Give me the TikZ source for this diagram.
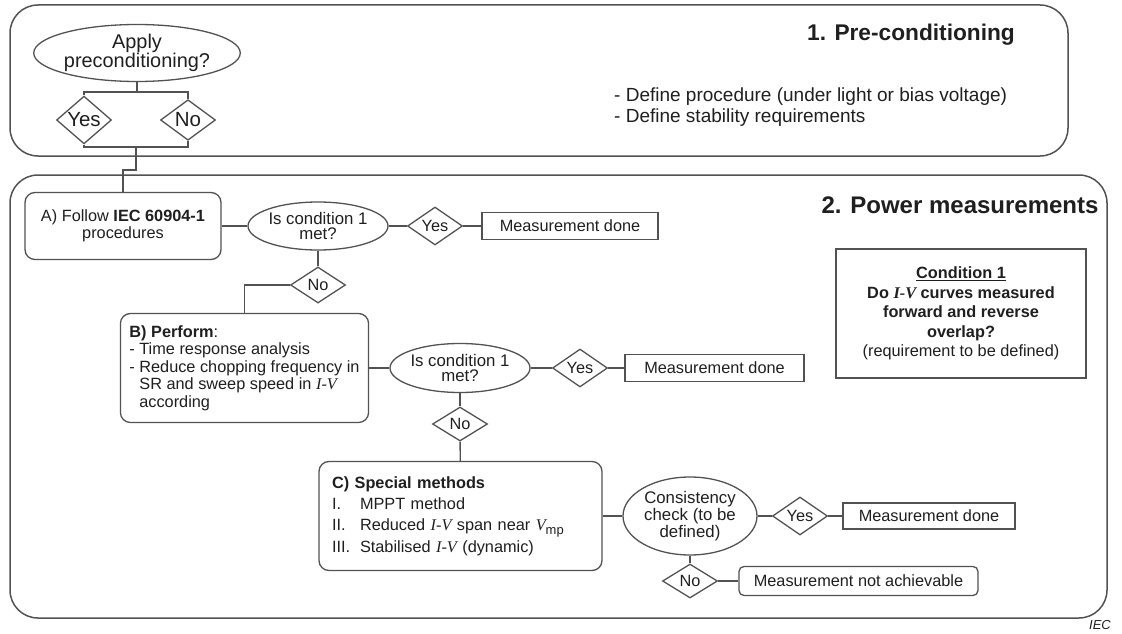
\documentclass[tikz,border=0pt]{standalone}
\usepackage{fontspec}
\setmainfont{Liberation Sans}
\newfontfamily\tnr{Liberation Serif}
\usetikzlibrary{shapes.geometric}

\newcommand{\IV}{{\tnr\itshape I-V}}
\newcommand{\Vmp}{{\tnr\itshape V}\raisebox{-0.4ex}{\fontsize{13}{13}\selectfont mp}}
\definecolor{linec}{gray}{0.32}

\tikzset{
  base/.style={font=\fontsize{16.3}{17.5}\selectfont, text=black!88},
  stepbox/.style={draw=linec, line width=1.3pt, rounded corners=10pt, base},
  query/.style={draw=linec, line width=1.3pt, ellipse, inner sep=0pt, align=center,
    font=\fontsize{16.8}{15.5}\selectfont, text=black!88},
  answer/.style={draw=linec, line width=1.3pt, diamond, inner sep=0pt,
    minimum width=55pt, minimum height=35pt, base},
  result/.style={draw=linec, line width=1.3pt, minimum height=27pt, base},
  link/.style={draw=linec, line width=1.3pt},
  section/.style={draw=linec, line width=1.5pt, rounded corners=28pt}
}

\begin{document}
\begin{tikzpicture}[x=1pt, y=-1pt]
    \useasboundingbox (0,0) rectangle (1122,634);
    % the two sections
    \draw[section] (10,5) rectangle (1068,156);
    \draw[section] (10,175) rectangle (1107,618);
    \node[text=black!88, font=\fontsize{22.7}{26}\selectfont\bfseries] (title1) at (911,35) {1. Pre-conditioning};
    \node[text=black!88, font=\fontsize{24}{27}\selectfont\bfseries] (title2) at (960,205) {2. Power measurements};
    \node[text=black!88, font=\fontsize{19}{21}\selectfont, align=left, anchor=west, inner sep=0pt] (notes) at (614,107.5)
        {- Define procedure (under light or bias voltage)\\- Define stability requirements};

    % pre-conditioning choice
    \node[query, font=\fontsize{19.9}{19.5}\selectfont, minimum width=165pt, minimum height=57pt] (apply) at (137,53) {Apply\\preconditioning?};
    \node[answer, font=\fontsize{20.5}{22}\selectfont] (yes0) at (84,120) {Yes};
    \node[answer, font=\fontsize{20.5}{22}\selectfont] (no0) at (188,120) {No};
    \coordinate (split) at (137,92);
    \coordinate (join) at (136,147);
    \draw[link] (apply) -- (split);
    \draw[link] (yes0.north) |- (split) -| (no0.north);
    \draw[link] (yes0.south) |- (join) -| (no0.south);

    % step A
    \node[stepbox, align=center, minimum width=196pt, minimum height=67pt] (follow) at (123,226)
        {A) Follow \textbf{IEC 60904-1}\\procedures};
    \draw[link] (join) -- ++(0,23) -| (follow.north);
    \node[query, minimum width=140pt, minimum height=48pt] (cond1) at (318,226) {Is condition 1\\met?};
    \node[answer] (yes1) at (435,226) {Yes};
    \node[result, minimum width=176pt] (done1) at (570,226) {Measurement done};
    \node[answer, minimum height=36pt] (no1) at (318,285) {No};
    \draw[link] (follow) -- (cond1) -- (yes1) -- (done1);
    \draw[link] (cond1) -- (no1);

    % step B
    \node[stepbox, align=left, minimum width=245pt, minimum height=109pt, inner xsep=9pt] (perform) at (244.5,368)
        {\textbf{B) Perform}:\\- Time response analysis\\- Reduce chopping frequency in\\\phantom{- }SR and sweep speed in \IV\\\phantom{- }according};
    \draw[link] (no1.west) -| (perform.north);
    \node[query, minimum width=140pt, minimum height=49pt] (cond2) at (460,368) {Is condition 1\\met?};
    \node[answer] (yes2) at (580,368) {Yes};
    \node[result, minimum width=179pt] (done2) at (714.5,368) {Measurement done};
    \node[answer, minimum height=34pt] (no2) at (460,424) {No};
    \draw[link] (perform) -- (cond2) -- (yes2) -- (done2);
    \draw[link] (cond2) -- (no2);

    % step C
    \node[stepbox, align=left, text width=257pt, inner xsep=13pt, minimum height=109pt,
        font=\fontsize{16.3}{21.3}\selectfont] (special) at (460.5,516)
        {\textbf{C) Special methods}\\
         \makebox[28pt][l]{I.}MPPT method\\
         \makebox[28pt][l]{II.}Reduced \IV{} span near \Vmp\\
         \makebox[28pt][l]{III.}Stabilised \IV{} (dynamic)};
    \draw[link] (no2) -- (special);
    \node[query, font=\fontsize{16.8}{17}\selectfont, minimum width=134pt, minimum height=78pt] (cons) at (690,516)
        {Consistency\\check (to be\\defined)};
    \node[answer] (yes3) at (800,516) {Yes};
    \node[result, minimum width=172pt, minimum height=26pt] (done3) at (929,516) {Measurement done};
    \node[answer, minimum height=34pt] (no3) at (690,581) {No};
    \node[stepbox, rounded corners=5pt, minimum width=239pt, minimum height=29pt] (fail) at (858.5,581)
        {Measurement not achievable};
    \draw[link] (special) -- (cons) -- (yes3) -- (done3);
    \draw[link] (cons) -- (no3) -- (fail);

    % condition note
    \node[draw=linec, line width=1.3pt, align=center, minimum width=250pt, minimum height=129pt,
        font=\fontsize{16.3}{19.5}\selectfont, text=black!88] (cnote) at (961,313.5)
        {\textbf{\underline{Condition 1}}\\
         \textbf{Do \IV{} curves measured}\\
         \textbf{forward and reverse}\\
         \textbf{overlap?}\\
         (requirement to be defined)};

    \node[text=black!88, font=\fontsize{13}{14}\selectfont\itshape] (mark) at (1100,625) {IEC};
\end{tikzpicture}
\end{document}
